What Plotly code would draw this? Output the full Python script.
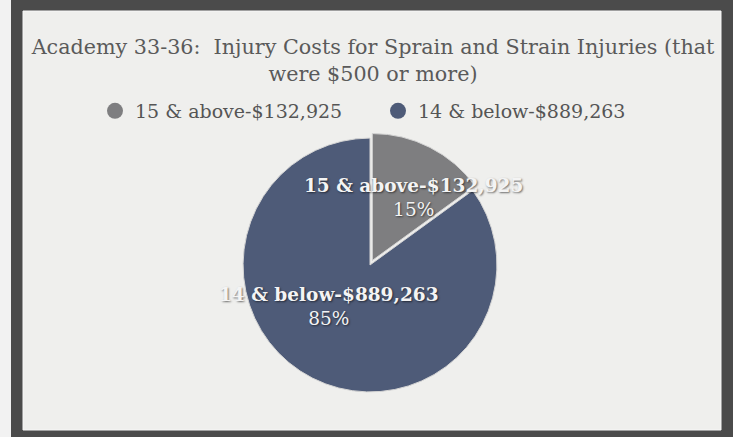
import plotly.graph_objects as go

# Data
groups = ["15 & above", "14 & below"]
costs = [132925, 889263]
shares = [15, 85]          # percent shown on the slices
slice_colors = ["#7e7e80", "#4e5b78"]

title_text = "Academy 33-36:  Injury Costs for Sprain and Strain Injuries (that<br>were $500 or more)"

W, H = 733, 437
FONT = "DejaVu Serif, Liberation Serif, serif"

names = [f"{g}-${c:,}" for g, c in zip(groups, costs)]


def px_x(v):
    return v / W


def px_y(v):
    # pixel row from top -> paper fraction
    return (H - v) / H


fig = go.Figure()

fig.add_trace(go.Pie(
    labels=names,
    values=shares,
    sort=False,
    direction="clockwise",
    rotation=0,
    pull=[0.04, 0],
    marker=dict(colors=slice_colors, line=dict(color="#d4d4d4", width=1)),
    textinfo="none",
    hoverinfo="label+percent",
    showlegend=False,
    domain=dict(x=[px_x(370 - 132), px_x(370 + 132)],
                y=[px_y(265 + 132), px_y(265 - 132)]),
))

# circle markers for the legend
for name, col in zip(names, slice_colors):
    fig.add_trace(go.Scatter(
        x=[None], y=[None], mode="markers", name=name,
        marker=dict(symbol="circle", size=16, color=col),
        hoverinfo="skip",
    ))

# slice labels (placed like the original Excel data labels)
label_pos = [(413, 197), (329, 331)]
for name, pct, (lx, ly) in zip(names, shares, label_pos):
    fig.add_annotation(
        x=px_x(lx), y=px_y(ly), xref="paper", yref="paper",
        text=f"<b>{name}</b><br>{pct}%",
        showarrow=False, align="center",
        font=dict(family=FONT, size=18.5, color="#f4f4f4",
                  shadow="1px 1px 2px rgba(0,0,0,0.55)"),
    )

fig.update_layout(
    width=W, height=H,
    margin=dict(l=0, r=0, t=0, b=0, autoexpand=False),
    paper_bgcolor="#4b4b4b",
    plot_bgcolor="rgba(0,0,0,0)",
    xaxis=dict(visible=False),
    yaxis=dict(visible=False),
    title=dict(
        text=title_text, x=px_x(373), xanchor="center",
        y=px_y(54), yanchor="middle", yref="paper",
        font=dict(family=FONT, size=20.7, color="#5a5a5a"),
    ),
    legend=dict(
        orientation="h", x=px_x(378), xanchor="center",
        y=px_y(111), yanchor="middle",
        bgcolor="rgba(0,0,0,0)",
        font=dict(family=FONT, size=19, color="#555555"),
        entrywidth=238, entrywidthmode="pixels",
    ),
    shapes=[
        # light card behind the chart
        dict(type="rect", xref="paper", yref="paper", layer="below",
             x0=px_x(23), x1=px_x(721), y0=px_y(430), y1=px_y(11),
             fillcolor="#efefed", line=dict(color="#f7f7f7", width=1)),
        # pale strip at the left edge of the photo
        dict(type="rect", xref="paper", yref="paper", layer="below",
             x0=0, x1=px_x(11), y0=0, y1=1,
             fillcolor="#f2f2f2", line=dict(width=0)),
    ],
)

fig.write_html("out.html", config={"displayModeBar": False},
               post_script="document.body.style.margin='0';")
